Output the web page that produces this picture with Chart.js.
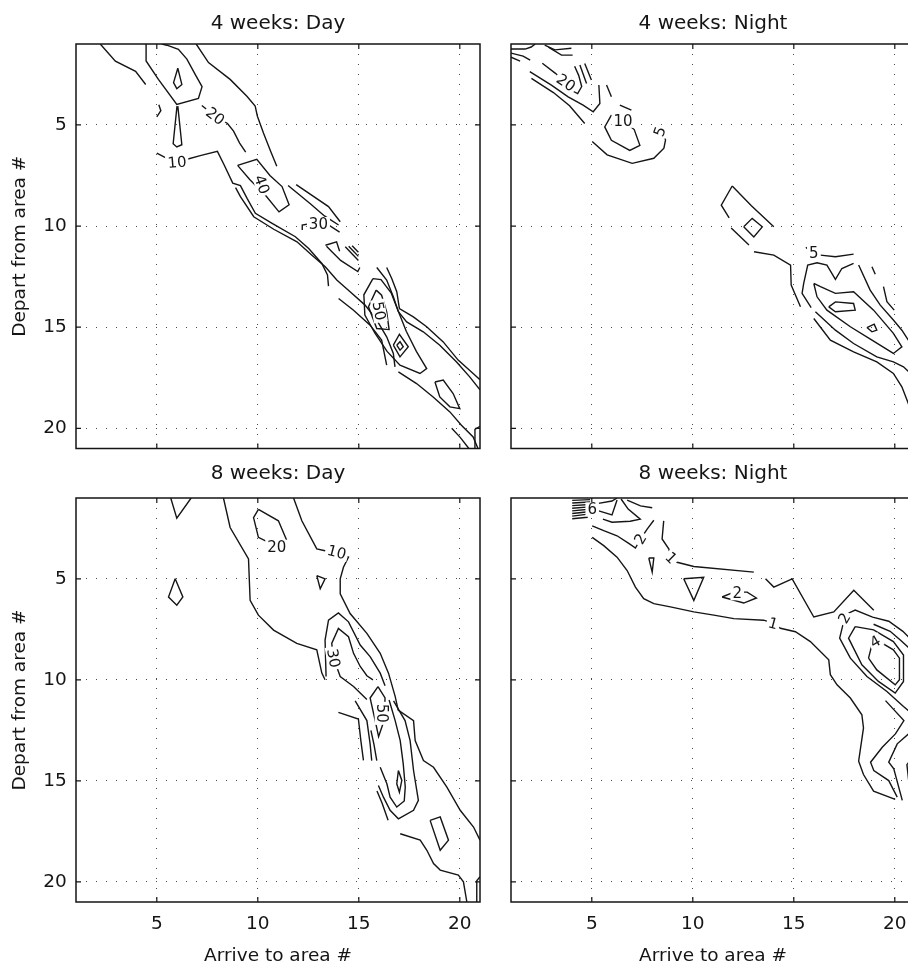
<!doctype html>
<html lang="en">
<head>
  <meta charset="utf-8">
  <title>Depart / arrive contour maps</title>
  <script src="https://cdn.jsdelivr.net/npm/chart.js"></script>
  <style>
    body { margin: 0; background: #fff; }
    #wrap { position: relative; width: 908px; height: 969px; overflow: hidden; background: #fff; }
    #wrap canvas { position: absolute; }
  </style>
</head>
<body>
<div id="wrap">
  <canvas id="c1"></canvas>
  <canvas id="c2"></canvas>
  <canvas id="c3"></canvas>
  <canvas id="c4"></canvas>
</div>
<script>
// axis ticks and texts
var tickVals = [5, 10, 15, 20];
var panelTitles = ['4 weeks: Day', '4 weeks: Night', '8 weeks: Day', '8 weeks: Night'];
var xAxisLabel = 'Arrive to area #';
var yAxisLabel = 'Depart from area #';

// contour lines, each one a list of [arrive area, depart area]
var day4Lines = [
  [[2.2,1.0],[2.95,1.85],[3.95,2.35],[4.45,3.0]],
  [[5.1,4.0],[5.2,4.3],[5.0,4.6]],
  [[4.47,1.0],[4.47,1.84],[5.08,2.75],[5.99,3.99],[7.06,3.69],[7.24,3.11],[6.9,2.5],[6.49,1.75],[6.07,1.26],[5.5,1.06],[5.25,1.0]],
  [[6.04,2.2],[5.83,2.91],[5.99,3.21],[6.24,3.0],[6.04,2.2]],
  [[6.0,4.07],[5.81,5.93],[5.99,6.09],[6.24,5.98],[6.04,4.07]],
  [[5.0,6.4],[5.5,6.65],[6.0,6.85],[6.5,6.7],[7.15,6.52],[8.0,6.31],[8.33,6.97],[8.76,7.88],[9.14,8.0],[9.47,8.63],[9.88,9.37],[10.71,9.87],[11.86,10.53],[12.52,11.11],[13.17,11.85],[13.45,12.42],[13.5,12.97]],
  [[8.9,8.1],[9.14,8.55],[9.8,9.54],[10.79,10.16],[11.94,10.78],[12.68,11.44],[13.34,12.01],[13.91,12.67],[14.57,13.25],[15.31,13.91],[15.89,14.65],[16.38,15.48],[16.71,16.3],[16.79,16.96]],
  [[14.0,13.58],[14.74,14.16],[15.56,14.9],[16.13,15.64],[16.38,16.88]],
  [[9.0,7.0],[9.95,6.7],[10.6,7.5],[11.2,8.05],[11.55,8.95],[11.05,9.3],[10.4,8.5],[9.6,7.7],[9.0,7.0]],
  [[6.95,1.0],[7.56,1.92],[8.63,2.75],[9.46,3.58],[9.87,4.07],[9.98,4.57],[10.28,5.4],[10.64,6.31],[10.94,7.05]],
  [[7.23,4.04],[7.89,4.57],[8.5,4.93],[8.8,5.31],[9.1,5.9],[9.4,6.35]],
  [[11.5,8.0],[12.6,8.9],[13.3,9.5],[14.0,9.95]],
  [[11.9,7.95],[13.5,9.04],[14.08,9.79]],
  [[12.2,10.2],[12.2,9.95],[12.5,9.9],[13.0,9.87],[13.5,9.95],[14.05,10.3]],
  [[13.35,10.95],[13.9,10.78],[14.05,11.25]],
  [[13.4,11.0],[14.1,11.7],[14.95,12.25],[15.05,12.05]],
  [[14.33,11.02],[14.98,11.7]],
  [[14.5,11.0],[14.98,11.5]],
  [[14.67,10.98],[14.98,11.3]],
  [[16.38,12.05],[16.63,12.59],[16.88,13.25],[17.01,14.08],[17.7,14.49],[18.36,14.98],[19.18,15.73],[19.92,16.63],[20.66,17.29],[21.0,17.6]],
  [[15.89,12.05],[16.38,12.67],[16.71,13.5],[16.96,14.24],[17.37,14.74],[18.19,15.23],[19.01,15.89],[19.84,16.72],[20.49,17.46],[21.0,18.1]],
  [[15.7,12.6],[15.25,13.4],[15.3,14.4],[15.8,15.3],[16.4,16.2],[17.04,16.88],[18.03,17.29],[18.36,17.05],[17.85,16.2],[17.35,15.2],[16.95,14.2],[16.6,13.3],[16.1,12.65],[15.7,12.6]],
  [[15.86,13.17],[15.48,13.99],[15.89,15.07],[16.5,15.12],[16.38,14.24],[16.13,13.42],[15.86,13.17]],
  [[16.71,15.89],[17.01,15.35],[17.45,15.97],[17.04,16.47],[16.71,15.89]],
  [[16.88,15.89],[17.04,15.72],[17.2,15.97],[17.04,16.14],[16.88,15.89]],
  [[18.77,17.71],[19.18,17.62],[19.67,18.28],[20.0,19.03],[19.51,18.94],[19.01,18.45],[18.77,17.71]],
  [[16.96,17.21],[17.86,17.79],[18.68,18.45],[19.51,19.19],[20.08,19.85],[20.66,20.43],[20.9,21.0]],
  [[19.6,20.0],[20.02,20.45],[20.45,21.0]],
  [[20.75,21.0],[20.75,20.05],[21.0,19.9]]
];
// [text, x, y, angle in degrees]
var day4Labels = [['10',6.0,6.85,-5],['20',7.89,4.57,38],['40',10.2,7.95,70],['30',13.0,9.9,0],['50',16.0,14.2,80]];

var night4Lines = [
  [[1.0,1.25],[1.7,1.25],[2.0,1.15],[2.2,1.0]],
  [[1.0,1.45],[1.6,1.6],[1.95,1.8]],
  [[1.0,1.65],[1.45,1.85]],
  [[2.67,1.05],[3.17,1.29],[3.99,1.21]],
  [[2.85,1.15],[3.5,1.55],[4.05,1.55]],
  [[1.93,2.37],[3.0,3.03],[3.83,3.61],[4.57,4.02],[5.07,4.35],[5.4,3.94],[5.35,3.03]],
  [[2.01,2.7],[3.1,3.4],[3.9,4.05],[4.65,4.93]],
  [[2.55,1.95],[3.2,2.45],[3.72,2.91],[4.1,3.35],[4.3,3.45],[4.5,3.1],[4.35,2.55],[4.15,2.1]],
  [[4.41,2.04],[4.74,2.95]],
  [[4.65,1.96],[4.98,2.78]],
  [[5.73,3.03],[5.97,3.61]],
  [[6.39,4.02],[6.96,4.27]],
  [[8.37,5.33],[8.65,5.74],[8.57,6.15],[8.07,6.65],[7.0,6.9],[5.76,6.48],[5.02,5.82]],
  [[5.97,4.52],[5.64,5.1],[5.97,5.76],[6.88,6.26],[7.38,6.01],[7.1,5.23],[6.55,4.8],[5.97,4.52]],
  [[11.95,8.02],[11.41,8.97],[11.8,9.6]],
  [[11.9,10.1],[12.78,10.94]],
  [[11.95,8.02],[12.9,9.0],[14.01,10.04]],
  [[12.52,10.04],[12.94,9.62],[13.44,10.04],[13.02,10.54],[12.52,10.04]],
  [[13.03,11.27],[14.01,11.44],[14.84,11.93],[14.87,12.92],[15.33,13.99]],
  [[15.6,11.05],[15.75,11.2]],
  [[16.32,11.44],[17.06,11.52],[17.96,11.39]],
  [[15.86,14.03],[15.41,13.33],[15.49,12.84],[15.69,11.93],[16.15,11.82],[16.64,11.93],[17.06,12.64],[17.38,12.1],[17.96,11.85]],
  [[15.99,12.84],[16.15,13.5],[16.64,14.16],[17.8,14.98],[18.87,15.64],[19.93,16.3],[20.35,15.97],[19.93,15.31],[18.95,14.16],[17.96,13.25],[17.06,13.33],[16.32,13.0],[15.99,12.84]],
  [[16.73,14.0],[17.06,13.75],[17.96,13.83],[18.04,14.16],[17.06,14.24],[16.73,14.0]],
  [[18.62,15.02],[18.98,14.85],[19.11,15.15],[18.87,15.23],[18.62,15.02]],
  [[16.07,14.24],[17.06,15.15],[17.96,15.81],[19.11,16.47],[19.93,16.72],[20.43,16.96],[21.0,17.5]],
  [[15.99,14.57],[16.81,15.64],[17.96,16.22],[19.11,16.72],[19.93,17.29],[20.35,17.95],[20.67,18.78],[20.8,19.2]],
  [[18.21,11.93],[18.78,13.17],[19.28,13.91],[19.93,14.65],[20.35,15.15],[20.67,15.64]],
  [[18.87,12.01],[19.03,12.38]],
  [[19.44,13.0],[19.61,13.74],[19.97,14.16]]
];
var night4Labels = [['20',3.72,2.91,35],['10',6.55,4.8,0],['5',8.37,5.33,-70],['5',15.99,11.35,0]];

var day8Lines = [
  [[5.69,1.0],[5.99,2.0],[6.7,1.0]],
  [[5.91,5.0],[5.58,5.9],[5.99,6.31],[6.29,5.9],[5.91,5.0]],
  [[8.3,1.0],[8.63,2.46],[9.54,4.02],[9.62,6.07],[10.03,6.8],[10.78,7.54],[11.93,8.2],[12.92,8.52],[13.17,9.67],[13.33,10.0]],
  [[10.03,1.56],[9.79,1.97],[10.03,2.95],[10.53,3.2],[10.94,3.41],[11.44,3.11],[11.02,2.13],[10.03,1.56]],
  [[11.77,1.0],[12.18,2.13],[12.92,3.52],[13.33,3.61],[13.91,3.69],[14.49,3.93],[14.24,4.43],[14.08,5.0],[14.08,5.74],[14.57,6.72],[15.4,7.7],[16.06,8.69],[16.47,9.67],[16.8,10.82],[16.95,11.5],[17.71,12.02],[17.79,13.01],[18.2,14.0],[18.7,14.33],[19.36,15.31],[20.02,16.46],[20.68,17.29],[21.0,17.94]],
  [[12.92,4.84],[13.33,5.0],[13.09,5.49],[12.92,4.84]],
  [[13.38,9.84],[13.33,8.03],[13.5,7.05],[13.99,6.69],[14.49,7.13],[15.07,8.28],[15.56,8.85],[16.06,9.67],[16.3,10.3]],
  [[15.4,10.98],[14.74,10.33],[14.08,9.84],[13.75,8.93],[13.66,8.2],[13.99,7.46],[14.49,7.87],[14.74,8.69],[15.07,9.34],[15.4,9.8],[15.7,10.0]],
  [[13.99,11.61],[14.98,11.94],[15.1,13.0],[15.23,13.99]],
  [[14.82,11.04],[15.4,12.02],[15.56,13.17],[15.64,14.0]],
  [[15.6,12.5],[15.75,13.2],[15.89,14.0]],
  [[15.95,10.34],[15.56,10.9],[15.81,12.02],[15.98,12.81],[16.25,12.02],[16.3,10.9],[15.95,10.34]],
  [[16.5,11.0],[16.8,12.02],[17.05,13.01],[17.2,14.16],[17.3,15.31],[17.25,16.0],[16.88,16.3],[16.55,15.81],[16.39,15.15],[16.06,14.33]],
  [[16.72,11.04],[17.29,12.02],[17.54,13.01],[17.71,14.49],[17.95,15.97],[17.71,16.46],[16.96,16.88],[16.55,16.46],[16.22,15.81],[15.97,15.23]],
  [[15.9,15.5],[16.15,16.1],[16.45,16.95]],
  [[16.96,14.49],[16.88,15.15],[17.01,15.56],[17.13,14.98],[16.96,14.49]],
  [[17.05,17.62],[18.04,17.94],[18.37,18.44],[18.7,19.1],[19.03,19.42],[19.93,19.67],[20.18,20.0],[20.35,21.0]],
  [[18.53,16.96],[19.03,16.79],[19.44,17.94],[19.03,18.44],[18.53,16.96]],
  [[20.84,21.0],[20.84,19.95],[21.0,19.75]]
];
var day8Labels = [['20',10.94,3.41,0],['10',13.91,3.69,15],['30',13.75,8.93,80],['50',16.13,11.66,90]];

var night8Lines = [
  [[4.03,1.12],[4.92,1.08]],
  [[4.03,1.25],[4.92,1.2]],
  [[4.03,1.38],[4.9,1.32]],
  [[4.03,1.51],[4.88,1.44]],
  [[4.03,1.64],[4.86,1.56]],
  [[4.03,1.77],[4.84,1.68]],
  [[4.03,1.9],[4.82,1.8]],
  [[4.03,2.03],[4.8,1.95]],
  [[5.26,1.28],[6.0,1.15],[6.25,1.0]],
  [[5.26,1.61],[6.0,1.84],[6.25,1.1]],
  [[6.45,1.05],[6.8,1.55],[7.4,2.05],[6.9,2.15],[6.0,2.2],[5.55,2.05]],
  [[6.75,1.11],[7.41,1.39],[7.99,1.48]],
  [[5.02,2.38],[5.59,2.62],[6.25,2.87],[6.83,3.25],[7.16,3.48],[7.41,3.03],[7.74,2.54],[8.07,2.1]],
  [[5.02,2.95],[5.59,3.36],[6.25,3.93],[6.75,4.59],[7.16,5.41],[7.57,5.98],[8.07,6.23],[8.89,6.39],[10.05,6.64],[11.04,6.8],[12.03,6.97],[13.51,7.05],[13.98,7.21],[14.34,7.45],[15.08,7.62],[15.82,8.11],[16.73,9.01],[16.81,9.75],[17.14,10.25],[17.8,10.9],[18.37,11.73],[18.45,12.38],[18.21,14.03],[18.45,14.69],[18.95,15.51],[20.02,15.92]],
  [[8.56,2.13],[8.48,3.03],[8.81,3.52],[8.93,3.97],[9.22,4.18],[10.05,4.39],[13.02,4.67]],
  [[7.82,3.97],[8.07,3.97],[7.99,4.67],[7.82,3.97]],
  [[9.55,5.0],[10.54,4.92],[10.05,6.07],[9.55,5.0]],
  [[11.45,5.9],[12.03,5.66],[12.69,5.66],[13.15,5.95],[12.52,6.2],[11.45,5.9]],
  [[13.6,5.0],[14.01,5.41],[14.92,5.0],[15.99,6.89],[16.98,6.64],[17.97,5.57],[18.96,6.56]],
  [[21.0,8.2],[20.4,7.6],[19.7,7.1],[18.9,6.9],[18.04,6.55],[17.6,6.75],[17.47,7.12],[17.27,7.94],[17.8,8.93],[18.62,9.84],[19.61,10.58],[20.43,11.32],[21.0,11.8]],
  [[18.95,7.25],[19.77,7.6],[20.3,8.05],[21.0,8.7]],
  [[18.04,7.37],[17.71,7.94],[18.37,9.26],[19.19,10.08],[20.02,10.66],[20.43,10.08],[20.43,8.77],[19.93,8.11],[18.95,7.53],[18.04,7.37]],
  [[18.7,8.93],[18.95,7.94],[19.93,8.52],[20.23,8.93],[20.23,10.0],[20.02,10.25],[19.11,9.51],[18.7,8.93]],
  [[19.54,11.03],[20.45,12.02],[20.03,12.68],[19.38,13.34],[18.8,14.08],[18.96,14.49],[19.7,14.99],[20.12,15.81]],
  [[20.78,12.59],[20.12,13.17],[19.7,14.08],[19.95,14.41],[20.37,15.97]],
  [[21.0,13.7],[20.6,14.2],[20.8,16.0]]
];
var night8Labels = [['6',5.02,1.56,0],['2',7.41,3.03,-60],['1',8.93,3.97,45],['2',12.2,5.72,0],['1',13.98,7.21,15],['2',17.5,6.95,-60],['4',19.03,8.11,-30]];

var ink = '#151515';
var fontFam = '"DejaVu Sans", "Liberation Sans", sans-serif';

// box round the plot area, with inward tick marks on all four sides
var framePlugin = {
  id: 'frame',
  afterDatasetsDraw: function(chart) {
    var a = chart.chartArea, ctx = chart.ctx;
    var xs = chart.scales.x, ys = chart.scales.y;
    ctx.save();
    ctx.strokeStyle = ink;
    ctx.lineWidth = 1.5;
    ctx.strokeRect(a.left, a.top, a.right - a.left, a.bottom - a.top);
    ctx.lineWidth = 1.2;
    ctx.beginPath();
    tickVals.forEach(function(v) {
      var px = xs.getPixelForValue(v), py = ys.getPixelForValue(v);
      ctx.moveTo(px, a.bottom); ctx.lineTo(px, a.bottom - 5);
      ctx.moveTo(px, a.top); ctx.lineTo(px, a.top + 5);
      ctx.moveTo(a.left, py); ctx.lineTo(a.left + 5, py);
      ctx.moveTo(a.right, py); ctx.lineTo(a.right - 5, py);
    });
    ctx.stroke();
    ctx.restore();
  }
};

// inline contour labels (white box breaks the line like clabel does)
var labelPlugin = {
  id: 'clabels',
  afterDatasetsDraw: function(chart, args, opts) {
    var ctx = chart.ctx, xs = chart.scales.x, ys = chart.scales.y;
    ctx.save();
    ctx.font = '15px ' + fontFam;
    ctx.textAlign = 'center';
    ctx.textBaseline = 'middle';
    (opts.items || []).forEach(function(l) {
      var px = xs.getPixelForValue(l[1]), py = ys.getPixelForValue(l[2]);
      ctx.save();
      ctx.translate(px, py);
      ctx.rotate(l[3] * Math.PI / 180);
      var w = ctx.measureText(l[0]).width;
      ctx.fillStyle = '#fff';
      ctx.fillRect(-w / 2 - 2, -7, w + 4, 14);
      ctx.fillStyle = ink;
      ctx.fillText(l[0], 0, 1);
      ctx.restore();
    });
    ctx.restore();
  }
};

// no extra room for end tick labels, the plot box is placed by hand
function noPad(s) {
  s.paddingTop = 0; s.paddingBottom = 0; s.paddingLeft = 0; s.paddingRight = 0;
}

function makePanel(p) {
  var cv = document.getElementById(p.id);
  cv.width = p.w;
  cv.height = p.h;
  cv.style.left = p.left + 'px';
  cv.style.top = p.top + 'px';

  var sets = p.lines.map(function(pts) {
    return {
      data: pts.map(function(q) { return {x: q[0], y: q[1]}; }),
      showLine: true,
      borderColor: ink,
      borderWidth: 1.4,
      pointRadius: 0,
      tension: 0,
      fill: false
    };
  });

  return new Chart(cv, {
    type: 'scatter',
    data: { datasets: sets },
    options: {
      responsive: false,
      animation: false,
      devicePixelRatio: 1,
      events: [],
      layout: { padding: { left: 0, right: p.padR, top: 0, bottom: 0 } },
      plugins: {
        legend: { display: false },
        tooltip: { enabled: false },
        title: {
          display: true,
          text: p.title,
          fullSize: false,
          color: ink,
          font: { family: fontFam, size: 20, weight: 'normal' },
          padding: { top: p.titleTop, bottom: p.titleBottom }
        },
        clabels: { items: p.labels }
      },
      scales: {
        x: {
          type: 'linear',
          min: 1, max: 21,
          afterBuildTicks: function(s) { s.ticks = tickVals.map(function(v) { return {value: v}; }); },
          afterFit: function(s) { s.height = p.xh; noPad(s); },
          grid: { drawTicks: false, color: '#4a4a4a', lineWidth: 1 },
          border: { display: false, dash: [1, 9] },
          ticks: { display: p.showX, color: ink, padding: 11.4, maxRotation: 0, autoSkip: false,
                   font: { family: fontFam, size: 18.5 } },
          title: { display: p.showX, text: xAxisLabel, color: ink,
                   font: { family: fontFam, size: 18.5 }, padding: { top: 0, bottom: 2 } }
        },
        y: {
          type: 'linear',
          reverse: true,
          min: 1, max: 21,
          afterBuildTicks: function(s) { s.ticks = tickVals.map(function(v) { return {value: v}; }); },
          afterFit: function(s) { s.width = p.yw; noPad(s); },
          grid: { drawTicks: false, color: '#4a4a4a', lineWidth: 1 },
          border: { display: false, dash: [1, 9] },
          ticks: { display: p.showY, color: ink, padding: 9.3, autoSkip: false,
                   font: { family: fontFam, size: 18.5 } },
          title: { display: p.showY, text: yAxisLabel, color: ink,
                   font: { family: fontFam, size: 18.5 }, padding: { top: 9.5, bottom: 0 } }
        }
      }
    },
    plugins: [framePlugin, labelPlugin]
  });
}

var panels = [
  { id: 'c1', left: 0,   top: 0,   w: 495, h: 462, padR: 15, yw: 76, xh: 13.5, titleTop: 11.5, titleBottom: 8.5,
    title: panelTitles[0], lines: day4Lines, labels: day4Labels, showX: false, showY: true },
  { id: 'c2', left: 495, top: 0,   w: 440, h: 462, padR: 20, yw: 16, xh: 13.5, titleTop: 11.5, titleBottom: 8.5,
    title: panelTitles[1], lines: night4Lines, labels: night4Labels, showX: false, showY: false },
  { id: 'c3', left: 0,   top: 452, w: 495, h: 517, padR: 15, yw: 76, xh: 67, titleTop: 9.5, titleBottom: 12.5,
    title: panelTitles[2], lines: day8Lines, labels: day8Labels, showX: true, showY: true },
  { id: 'c4', left: 495, top: 452, w: 440, h: 517, padR: 20, yw: 16, xh: 67, titleTop: 9.5, titleBottom: 12.5,
    title: panelTitles[3], lines: night8Lines, labels: night8Labels, showX: true, showY: false }
];

panels.forEach(makePanel);
</script>
</body>
</html>
